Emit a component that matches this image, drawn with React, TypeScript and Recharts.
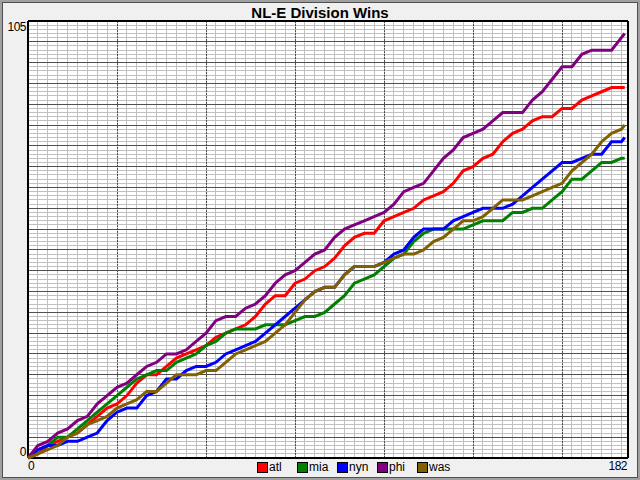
import React from 'react'
import { LineChart, Line, XAxis, YAxis, CartesianGrid } from 'recharts'

// day of the season (0 = opening day) and cumulative wins, every 3 days
const days = [0, 3, 6, 9, 12, 15, 18, 21, 24, 27, 30, 33, 36, 39, 42, 45, 48, 51, 54, 57, 60, 63, 66, 69, 72, 75, 78, 81, 84, 87, 90, 93, 96, 99, 102, 105, 108, 111, 114, 117, 120, 123, 126, 129, 132, 135, 138, 141, 144, 147, 150, 153, 156, 159, 162, 165, 168, 171, 174, 177, 180, 181]

const atl = [0, 1, 3, 4, 5, 6, 8, 10, 12, 13, 15, 18, 20, 20, 22, 24, 25, 26, 27, 29, 30, 31, 32, 34, 37, 39, 39, 42, 43, 45, 46, 48, 51, 53, 54, 54, 57, 58, 59, 60, 62, 63, 64, 66, 69, 70, 72, 73, 76, 78, 79, 81, 82, 82, 84, 84, 86, 87, 88, 89, 89, 89]
const mia = [0, 2, 3, 5, 5, 7, 9, 11, 13, 15, 17, 19, 20, 21, 21, 23, 24, 25, 27, 28, 30, 31, 31, 31, 32, 32, 32, 33, 34, 34, 35, 37, 39, 42, 43, 44, 46, 48, 49, 52, 54, 55, 55, 55, 55, 56, 57, 57, 57, 59, 59, 60, 60, 62, 64, 67, 67, 69, 71, 71, 72, 72]
const nyn = [0, 2, 3, 3, 4, 4, 5, 6, 9, 11, 12, 12, 15, 16, 19, 19, 21, 22, 22, 23, 25, 26, 27, 28, 30, 32, 34, 36, 38, 40, 41, 41, 44, 46, 46, 46, 47, 49, 50, 53, 55, 55, 55, 57, 58, 59, 60, 60, 60, 61, 63, 65, 67, 69, 71, 71, 72, 73, 73, 76, 76, 77]
const phi = [0, 3, 4, 6, 7, 9, 10, 13, 15, 17, 18, 20, 22, 23, 25, 25, 26, 28, 30, 33, 34, 34, 36, 37, 39, 42, 44, 45, 47, 49, 50, 53, 55, 56, 57, 58, 59, 61, 64, 65, 66, 69, 72, 74, 77, 78, 79, 81, 83, 83, 83, 86, 88, 91, 94, 94, 97, 98, 98, 98, 101, 102]
const was = [0, 1, 2, 3, 5, 6, 8, 9, 10, 12, 13, 14, 16, 16, 18, 20, 20, 20, 21, 21, 23, 25, 26, 27, 28, 30, 32, 35, 38, 40, 41, 41, 44, 46, 46, 46, 47, 48, 49, 49, 50, 52, 53, 55, 57, 57, 58, 60, 62, 62, 62, 63, 64, 65, 66, 69, 71, 73, 76, 78, 79, 80]

const teams = ['atl', 'mia', 'nyn', 'phi', 'was']
const colors = ['#ff0000', '#008000', '#0000ff', '#800080', '#806000']

const xTicks = [0, 182]
const yTicks = [0, 105]

// grid positions
const minorDays = Array.from({ length: 61 }, (_, i) => i * 3)
const majorDays = [27, 54, 81, 108, 135, 162]
const minorWins = Array.from({ length: 106 }, (_, i) => i)
const majorWins = Array.from({ length: 20 }, (_, i) => (i + 1) * 5)

const series: Record<string, number[]> = { atl, mia, nyn, phi, was }

const data = days.map((day, i) => {
  const row: Record<string, number> = { day }
  teams.forEach(t => { row[t] = series[t][i] })
  return row
})

const font = '"Liberation Sans", Arial, sans-serif'

function YTick(props: any) {
  const { x, y, payload } = props
  const top = payload.value === 105
  return (
    <text x={x} y={y} dy={top ? 10 : -2} textAnchor="end" fontSize={12} letterSpacing={-0.5} fill="#000" fontFamily={font}>
      {payload.value}
    </text>
  )
}

function XTick(props: any) {
  const { x, y, payload } = props
  const last = payload.value === 182
  return (
    <text x={last ? x - 1 : x} y={y} dy={12} textAnchor={last ? 'end' : 'start'} fontSize={12} letterSpacing={-0.5} fill="#000" fontFamily={font}>
      {payload.value}
    </text>
  )
}

export default function App() {
  return (
    <div style={{
      position: 'absolute', left: 0, top: 0, width: 640, height: 480, background: '#f0f0f0', overflow: 'hidden',
      boxShadow: 'inset 0 0 0 2px #a0a0a0, inset 0 0 0 3px #505050'
    }}>
      <div style={{ position: 'absolute', left: 0, top: 5, width: 640, textAlign: 'center', fontFamily: font, fontWeight: 'bold', fontSize: 15, lineHeight: '15px', color: '#000' }}>
        NL-E Division Wins
      </div>

      <LineChart width={640} height={480} data={data} margin={{ top: 21, right: 12, bottom: 0, left: 0 }}>
        <CartesianGrid fill="#ffffff" stroke="#c0c0c0" shapeRendering="crispEdges" horizontalValues={minorWins} verticalValues={minorDays} />
        <CartesianGrid stroke="#505050" shapeRendering="crispEdges" vertical={false} horizontalValues={majorWins} />
        <CartesianGrid stroke="#505050" strokeDasharray="2 1" shapeRendering="crispEdges" horizontal={false} verticalValues={majorDays} />
        <CartesianGrid stroke="#000000" strokeWidth={2} shapeRendering="crispEdges" horizontalValues={yTicks} verticalValues={xTicks} />
        <XAxis dataKey="day" type="number" domain={[0, 182]} ticks={xTicks} interval={0} height={22}
          axisLine={false} tickLine={false} tickSize={0} tickMargin={0} tick={<XTick />} />
        <YAxis type="number" domain={[0, 105]} ticks={yTicks} interval={0} width={28}
          axisLine={false} tickLine={false} tickSize={0} tickMargin={2} tick={<YTick />} />
        {teams.map((t, i) => (
          <Line key={t} type="linear" dataKey={t} stroke={colors[i]} strokeWidth={3} dot={false} activeDot={false} isAnimationActive={false} />
        ))}
      </LineChart>

      {teams.map((t, i) => (
        <div key={t} style={{ position: 'absolute', left: 257 + i * 40, top: 462, height: 11, display: 'flex', alignItems: 'center', fontFamily: font, fontSize: 12, color: '#000' }}>
          <span style={{ display: 'inline-block', width: 11, height: 11, boxSizing: 'border-box', border: '1px solid #000', background: colors[i], marginRight: 1 }} />
          <span style={{ lineHeight: '11px' }}>{t}</span>
        </div>
      ))}
    </div>
  )
}
